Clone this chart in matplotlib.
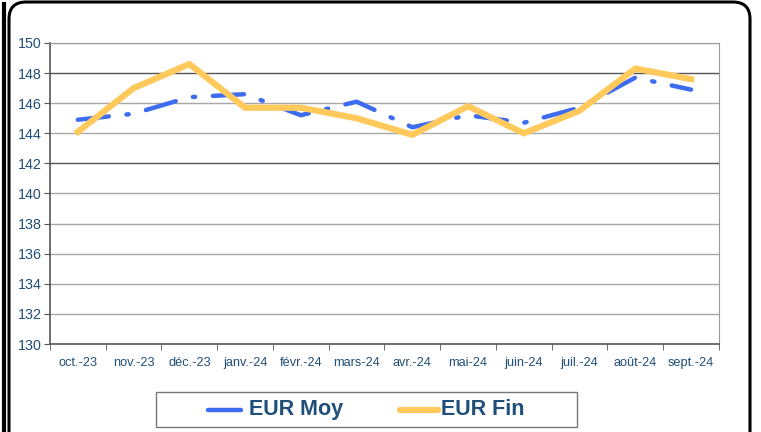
import matplotlib
matplotlib.use("Agg")
import matplotlib.pyplot as plt
from matplotlib.patches import FancyBboxPatch, Rectangle
from matplotlib.lines import Line2D
import numpy as np

plt.rcParams['font.family'] = ['Liberation Sans', 'DejaVu Sans']

# data
months = ['oct.-23', 'nov.-23', 'déc.-23', 'janv.-24', 'févr.-24', 'mars-24',
          'avr.-24', 'mai-24', 'juin-24', 'juil.-24', 'août-24', 'sept.-24']
eur_moy = [144.9, 145.3, 146.4, 146.6, 145.2, 146.1, 144.4, 145.2, 144.7, 145.7, 147.7, 146.9]
eur_fin = [144.1, 147.0, 148.6, 145.7, 145.7, 145.0, 143.9, 145.8, 144.0, 145.5, 148.3, 147.6]
series_names = ['EUR Moy', 'EUR Fin']

text_col = '#1f4e79'
blue = '#3d6cf0'
yellow = '#ffc95c'

fig = plt.figure(figsize=(7.61, 4.32), dpi=100)
ax = fig.add_axes([0.0657, 0.2037, 0.879, 0.6968])

x = np.arange(len(months))
ax.plot(x, eur_moy, color=blue, lw=3.2, dashes=(7, 4, 0.5, 4),
        dash_capstyle='round', solid_capstyle='round', zorder=3)
ax.plot(x, eur_fin, color=yellow, lw=4.5, solid_joinstyle='miter', zorder=4)

ax.set_xlim(-0.5, len(months) - 0.5)
ax.set_ylim(130, 150)
ax.set_yticks(np.arange(130, 151, 2))
ax.set_xticks(x)
ax.set_xticklabels(months)
ax.set_xticks(np.arange(-0.5, len(months), 1), minor=True)
ax.tick_params(axis='x', which='major', length=0, pad=9, labelsize=9.2, labelcolor=text_col)
ax.tick_params(axis='x', which='minor', length=4, color='#555555', direction='out')
ax.tick_params(axis='y', length=4, color='#555555', labelsize=10.3, labelcolor=text_col, pad=2)

for v in np.arange(132, 151, 2):
    c = '#555555' if v in (142, 148) else '#a8a8a8'
    ax.axhline(v, color=c, lw=1, zorder=1)

for s in ['top', 'right']:
    ax.spines[s].set_color('#999999')
for s in ['left', 'bottom']:
    ax.spines[s].set_color('#555555')
    ax.spines[s].set_linewidth(1.2)

# legend drawn by hand to match the wide box of the original
fig.add_artist(Rectangle((0.205, 0.0116), 0.553, 0.081, transform=fig.transFigure,
                         fill=False, ec='#777777', lw=1))
ly = 0.052
fig.add_artist(Line2D([0.2733, 0.3167], [ly, ly], transform=fig.transFigure,
                      color=blue, lw=3.2, solid_capstyle='round'))
fig.text(0.3272, ly, series_names[0], va='center', ha='left', fontsize=15.5,
         fontweight='bold', color=text_col)
fig.add_artist(Line2D([0.526, 0.575], [ly, ly], transform=fig.transFigure,
                      color=yellow, lw=4.5, solid_capstyle='round'))
fig.text(0.5795, ly, series_names[1], va='center', ha='left', fontsize=15.5,
         fontweight='bold', color=text_col)

# rounded outer frame
frame = FancyBboxPatch((0.09, -0.3), 7.41, 4.6, boxstyle='round,pad=0,rounding_size=0.17',
                       transform=fig.dpi_scale_trans, fill=False, ec='black', lw=2.2,
                       clip_on=False)
fig.patches.append(frame)
fig.add_artist(Line2D([0.035, 0.035], [0, 4.28], transform=fig.dpi_scale_trans,
                      color='black', lw=3))

fig.savefig('out.png', dpi=100)
